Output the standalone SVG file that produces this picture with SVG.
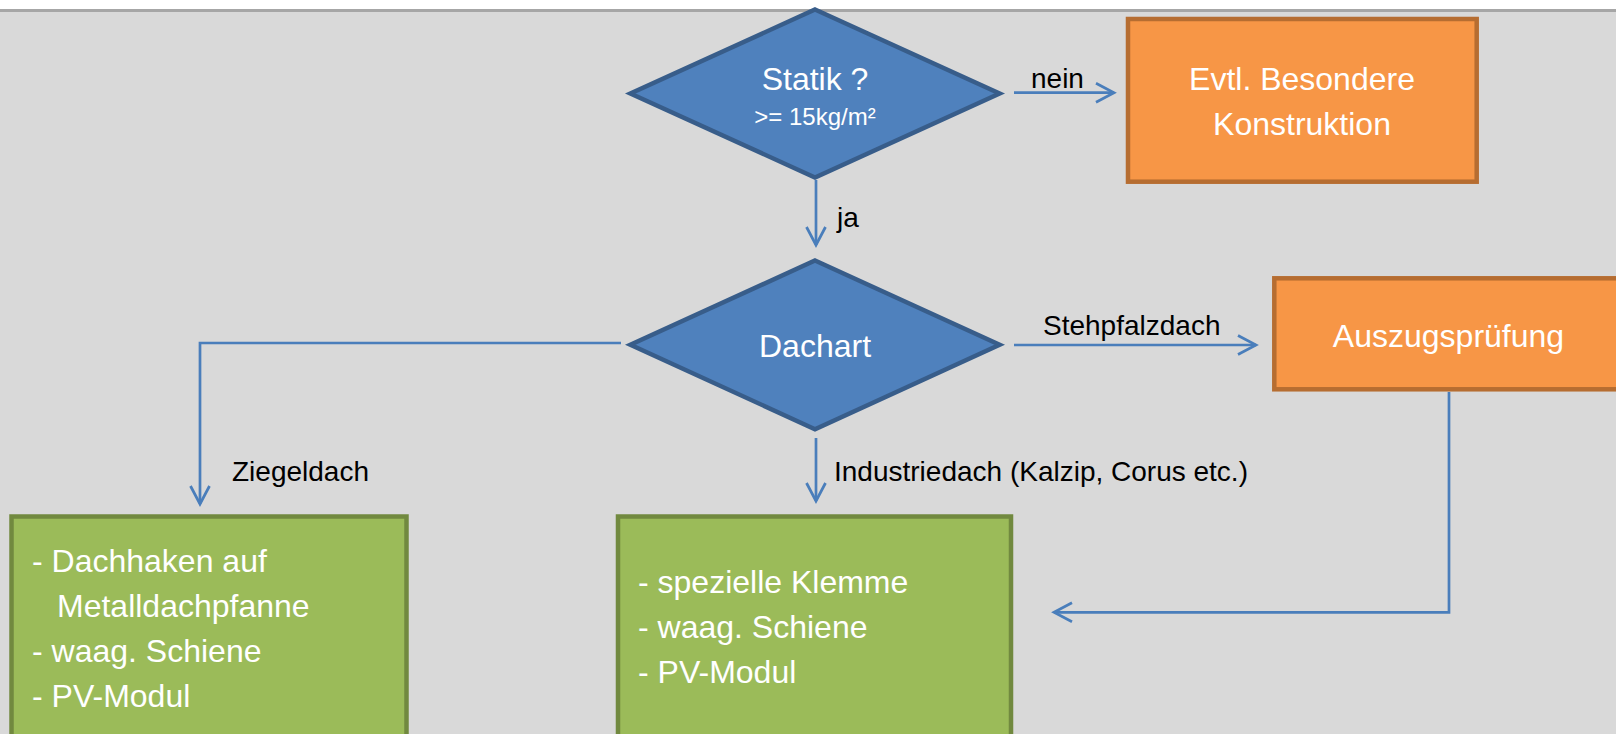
<svg xmlns="http://www.w3.org/2000/svg" width="1616" height="734" viewBox="0 0 1616 734">
  <defs>
    <style>
      .decision { fill: #4f81bd; stroke: #385d8a; stroke-width: 4.5; stroke-linejoin: miter; }
      .alert { fill: #f79646; stroke: #b66d31; stroke-width: 4.5; }
      .action { fill: #9bbb59; stroke: #71893f; stroke-width: 4.5; }
      .inner { font-family: "Liberation Sans", Arial, sans-serif; font-size: 32px; fill: #ffffff; }
      .mid { text-anchor: middle; }
      .small { font-size: 24px; }
      .label { font-family: "Liberation Sans", Arial, sans-serif; font-size: 28px; fill: #000000; }
      .conn { fill: none; stroke: #4a7ebb; stroke-width: 2.7; }
    </style>
    <marker id="arrow" markerUnits="userSpaceOnUse" viewBox="-22 -12 26 24" markerWidth="26" markerHeight="24" refX="0" refY="0" orient="auto" overflow="visible">
      <path d="M -18,-9.5 L 0,0 L -18,9.5" fill="none" stroke="#4a7ebb" stroke-width="2.7"/>
    </marker>
  </defs>

  <!-- page background with header strip -->
  <rect x="0" y="0" width="1616" height="734" fill="#d9d9d9"/>
  <rect x="0" y="0" width="1616" height="9" fill="#ffffff"/>
  <rect x="0" y="9" width="1616" height="3" fill="#a6a6a6"/>

  <!-- connectors -->
  <g id="connectors">
    <path class="conn" d="M 1014,92.7 L 1114,92.7" marker-end="url(#arrow)"/>
    <path class="conn" d="M 816,180 L 816,245" marker-end="url(#arrow)"/>
    <path class="conn" d="M 1014,345 L 1256,345" marker-end="url(#arrow)"/>
    <path class="conn" d="M 621,343 L 200,343 L 200,504" marker-end="url(#arrow)"/>
    <path class="conn" d="M 816,438 L 816,501" marker-end="url(#arrow)"/>
    <path class="conn" d="M 1449,392 L 1449,612.3 L 1054,612.3" marker-end="url(#arrow)"/>
    <text class="label" x="1031" y="88">nein</text>
    <text class="label" x="837" y="227">ja</text>
    <text class="label" x="1043" y="335">Stehpfalzdach</text>
    <text class="label" x="232" y="481">Ziegeldach</text>
    <text class="label" x="834" y="481">Industriedach (Kalzip, Corus etc.)</text>
  </g>

  <!-- decision: load capacity -->
  <g id="node-statik">
    <polygon class="decision" points="815,9.5 999.6,93.5 815,177.5 630.4,93.5"/>
    <text class="inner mid" x="815" y="90">Statik ?</text>
    <text class="inner mid small" x="815" y="125">&gt;= 15kg/m²</text>
  </g>

  <!-- special construction -->
  <g id="node-besondere">
    <rect class="alert" x="1128" y="19" width="348.7" height="162.7"/>
    <text class="inner mid" x="1302" y="90">Evtl. Besondere</text>
    <text class="inner mid" x="1302" y="135">Konstruktion</text>
  </g>

  <!-- decision: roof type -->
  <g id="node-dachart">
    <polygon class="decision" points="815,260.5 999.6,344.8 815,429.2 630.4,344.8"/>
    <text class="inner mid" x="815" y="357">Dachart</text>
  </g>

  <!-- pull-out test -->
  <g id="node-auszug">
    <rect class="alert" x="1274.3" y="278.3" width="400" height="111"/>
    <text class="inner mid" x="1448.5" y="347">Auszugsprüfung</text>
  </g>

  <!-- tiled roof mounting -->
  <g id="node-ziegeldach">
    <rect class="action" x="11.5" y="516.5" width="395" height="260"/>
    <text class="inner" x="32" y="572">- Dachhaken auf</text>
    <text class="inner" x="57" y="617">Metalldachpfanne</text>
    <text class="inner" x="32" y="662">- waag. Schiene</text>
    <text class="inner" x="32" y="707">- PV-Modul</text>
  </g>

  <!-- industrial roof mounting -->
  <g id="node-industriedach">
    <rect class="action" x="618" y="516.5" width="393" height="260"/>
    <text class="inner" x="638" y="593">- spezielle Klemme</text>
    <text class="inner" x="638" y="638">- waag. Schiene</text>
    <text class="inner" x="638" y="683">- PV-Modul</text>
  </g>
</svg>
